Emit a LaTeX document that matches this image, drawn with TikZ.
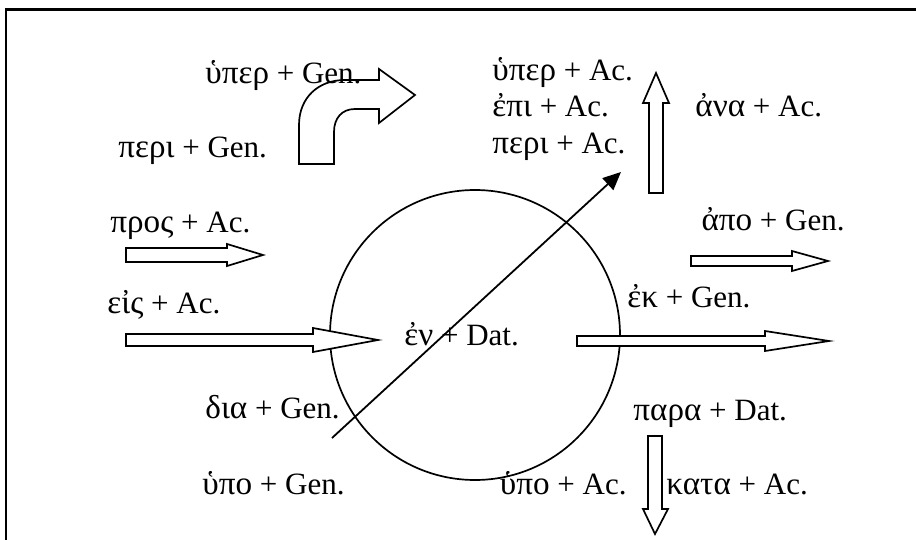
\documentclass[tikz,border=0pt]{standalone}
\usepackage{fontspec}
\setmainfont{Liberation Serif}
\newfontfamily\grkfont[Scale=1.07]{Liberation Serif}
\newcommand\grtext[1]{{\grkfont #1}}
\usetikzlibrary{arrows.meta}
\begin{document}
\begin{tikzpicture}[x=0.5pt,y=-0.5pt,
  lbl/.style={anchor=base west, inner sep=0pt, font=\fontsize{15.5}{18}\selectfont},
  lble/.style={lbl, anchor=base east},
  blk/.style={draw=black, line width=0.85pt, fill=white, line join=miter},
  ring/.style={circle, draw=black, line width=0.85pt, minimum size=145pt, inner sep=0pt}]
\useasboundingbox (0,0) rectangle (916,540);
% frame
\draw[line width=1.1pt] (6,540) -- (6,9.5) -- (916,9.5);
% circle
\node[ring] (sphere) at (475,335) {};
% block arrows
\draw[blk] (126,248) -- (227,248) -- (227,244) -- (263,255) -- (227,266) -- (227,262) -- (126,262) -- cycle;
\draw[blk] (126,334) -- (313,334) -- (313,328) -- (378,340) -- (313,352) -- (313,346) -- (126,346) -- cycle;
\draw[blk] (691,256) -- (792,256) -- (792,251) -- (828,261) -- (792,271) -- (792,266) -- (691,266) -- cycle;
\draw[blk] (577,336) -- (765,336) -- (765,331) -- (829,341) -- (765,351) -- (765,346) -- (577,346) -- cycle;
\draw[blk] (649,193) -- (649,103) -- (643,103) -- (656,73) -- (669,103) -- (663,103) -- (663,193) -- cycle;
\draw[blk] (648,436) -- (648,509) -- (643,509) -- (655,534) -- (668,509) -- (662,509) -- (662,436) -- cycle;
\draw[blk] (299,164) -- (299,125) .. controls (299,98) and (318,80) .. (345,80) -- (379,80) -- (379,69)
  -- (415,95) -- (379,123) -- (379,109) -- (355,109) .. controls (342,109) and (334,118) .. (334,132) -- (334,164) -- cycle;
% labels
\node[lbl] (uperG) at (205,84) {\grtext{ὑπερ} + Gen.};
\node[lbl] (periG) at (118,157) {\grtext{περι} + Gen.};
\node[lbl] (pros) at (110,232) {\grtext{προς} + Ac.};
\node[lbl] (eis) at (107,313) {\grtext{εἰς} + Ac.};
\node[lbl] (dia) at (205,418) {\grtext{δια} + Gen.};
\node[lbl] (upoG) at (202,494) {\grtext{ὑπο} + Gen.};
\node[lbl] (uperA) at (492,81) {\grtext{ὑπερ} + Ac.};
\node[lbl] (epi) at (492,117) {\grtext{ἐπι} + Ac.};
\node[lbl] (periA) at (492,154) {\grtext{περι} + Ac.};
\node[lbl] (ana) at (695,117) {\grtext{ἀνα} + Ac.};
\node[lble] (apo) at (845,230) {\grtext{ἀπο} + Gen.};
\node[lbl] (ek) at (627,307) {\grtext{ἐκ} + Gen.};
\node[lbl] (en) at (404,345) {\grtext{ἐν} + Dat.};
\node[lbl] (para) at (633,420) {\grtext{παρα} + Dat.};
\node[lble] (upoA) at (627,494) {\grtext{ὑπο} + Ac.};
\node[lbl] (kata) at (666,494) {\grtext{κατα} + Ac.};
% diagonal arrow
\coordinate (d0) at (332,438);
\coordinate (d1) at (621,172);
\draw[line width=0.9pt, -{Triangle[length=9pt,width=8pt]}] (d0) -- (d1);
\end{tikzpicture}
\end{document}
